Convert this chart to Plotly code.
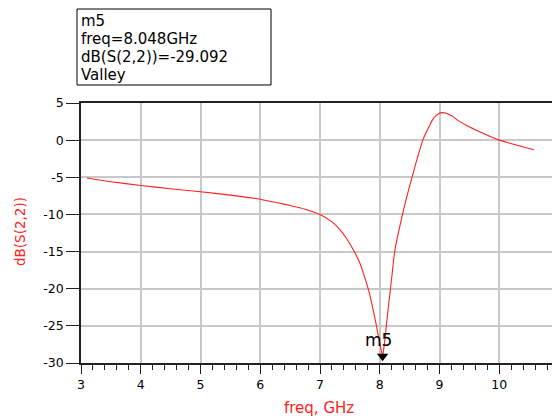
import plotly.graph_objects as go

freq = [3.1, 3.5, 4.0, 4.5, 5.0, 5.5, 6.0, 6.33, 6.5, 6.75, 7.0, 7.2, 7.33, 7.45,
        7.58, 7.67, 7.75, 7.82, 7.88, 7.93, 7.97, 8.0, 8.02, 8.048,
        8.07, 8.09, 8.11, 8.145, 8.18, 8.215, 8.25, 8.29, 8.33, 8.38, 8.46,
        8.54, 8.63, 8.72, 8.78, 8.83, 8.88, 8.94, 9.0, 9.05, 9.1, 9.17, 9.22,
        9.3, 9.44, 9.6, 9.72, 9.85, 10.0, 10.15, 10.3, 10.45, 10.58]
s22_db = [-5.1, -5.6, -6.1, -6.55, -6.95, -7.4, -7.95, -8.5, -8.8, -9.3, -10.0,
          -11.0, -12.0, -13.3, -15.1, -16.6, -18.5, -20.4, -22.5, -24.4, -26.1,
          -27.3, -28.1, -29.092,
          -27.9, -26.6, -25.0, -22.4, -20.0, -17.4, -15.0, -13.3, -11.8, -10.0,
          -7.4, -5.0, -2.4, 0.0, 1.1, 1.9, 2.7, 3.3, 3.62, 3.7, 3.65, 3.42, 3.2,
          2.7, 2.05, 1.4, 0.95, 0.48, 0.0, -0.35, -0.7, -1.03, -1.3]

marker_name = "m5"
marker_freq = 8.048
marker_val = -29.092
marker_lines = [marker_name, f"freq={marker_freq:.3f}GHz",
                f"dB(S(2,2))={marker_val:.3f}", "Valley"]

x_ticks = [3, 4, 5, 6, 7, 8, 9, 10, 11]
y_ticks = [5, 0, -5, -10, -15, -20, -25, -30]

FONT = "DejaVu Sans, sans-serif"
RED = "#ff2020"

# The page body adds an 8px offset; the figure is sized to fill the rest of the window.
OFF = 8
W, H = 560 - OFF, 418 - OFF
L, R, T, B = 81 - OFF, 1, 103 - OFF, 55
PW, PH = W - L - R, H - T - B


def px(xs):  # screen x pixel -> paper
    return (xs - OFF - L) / PW


def py(ys):  # screen y pixel -> paper
    return (H - B - (ys - OFF)) / PH


fig = go.Figure()
fig.add_trace(go.Scatter(x=freq, y=s22_db, mode="lines",
                         line=dict(color=RED, width=1.1, shape="spline",
                                   smoothing=0.5),
                         showlegend=False, hoverinfo="skip"))
fig.add_trace(go.Scatter(x=[marker_freq], y=[marker_val], mode="markers",
                         marker=dict(symbol="triangle-down", size=10, color="black"),
                         showlegend=False, hoverinfo="skip", cliponaxis=False))

fig.add_annotation(x=marker_freq, y=marker_val, xref="x", yref="y",
                   text=marker_name, showarrow=False, yanchor="middle",
                   yshift=16, xshift=-4,
                   font=dict(family=FONT, size=17, color="black"))

# marker readout box
fig.add_shape(type="rect", xref="paper", yref="paper",
              x0=px(77), x1=px(271), y0=py(85), y1=py(9),
              line=dict(color="black", width=1), fillcolor="white", layer="above")
for i, line in enumerate(marker_lines):
    fig.add_annotation(xref="paper", yref="paper", x=px(79), y=py(21 + 18 * i),
                       xanchor="left", yanchor="middle", text=line,
                       showarrow=False,
                       font=dict(family=FONT, size=15, color="black"))

# axis titles
fig.add_annotation(xref="paper", yref="paper", x=px(319), y=py(408),
                   text="freq, GHz", showarrow=False, xanchor="center",
                   yanchor="middle", font=dict(family=FONT, size=15, color=RED))
fig.add_annotation(xref="paper", yref="paper", x=px(20), y=py(232),
                   text="dB(S(2,2))", showarrow=False, textangle=-90,
                   xanchor="center", yanchor="middle",
                   font=dict(family=FONT, size=13.5, color=RED))

fig.update_layout(
    width=W, height=H,
    margin=dict(l=L, r=R, t=T, b=B),
    paper_bgcolor="white", plot_bgcolor="white",
    font=dict(family=FONT, size=12, color="black"),
    xaxis=dict(range=[3, 11], tickvals=x_ticks, ticktext=[str(v) for v in x_ticks],
               showgrid=True, gridcolor="#c8c8c8", gridwidth=1.5,
               showline=True, linecolor="#222", linewidth=1.5, mirror=True,
               ticks="outside", ticklen=9, tickcolor="#222", tickwidth=1.3,
               minor=dict(dtick=0.2, ticks="outside", ticklen=5, tickcolor="#222",
                          tickwidth=1.2, showgrid=False),
               zeroline=False, automargin=False, ticklabeloverflow="allow",
               tickfont=dict(family=FONT, size=12.5)),
    yaxis=dict(range=[-30, 5], tickvals=y_ticks, ticktext=[str(v) for v in y_ticks],
               showgrid=True, gridcolor="#c8c8c8", gridwidth=1.5,
               showline=True, linecolor="#222", linewidth=1.5, mirror=True,
               ticks="outside", ticklen=13, tickcolor="#222", tickwidth=1.3,
               zeroline=False, automargin=False,
               tickfont=dict(family=FONT, size=12.5)),
)

fig.write_html("out.html")
